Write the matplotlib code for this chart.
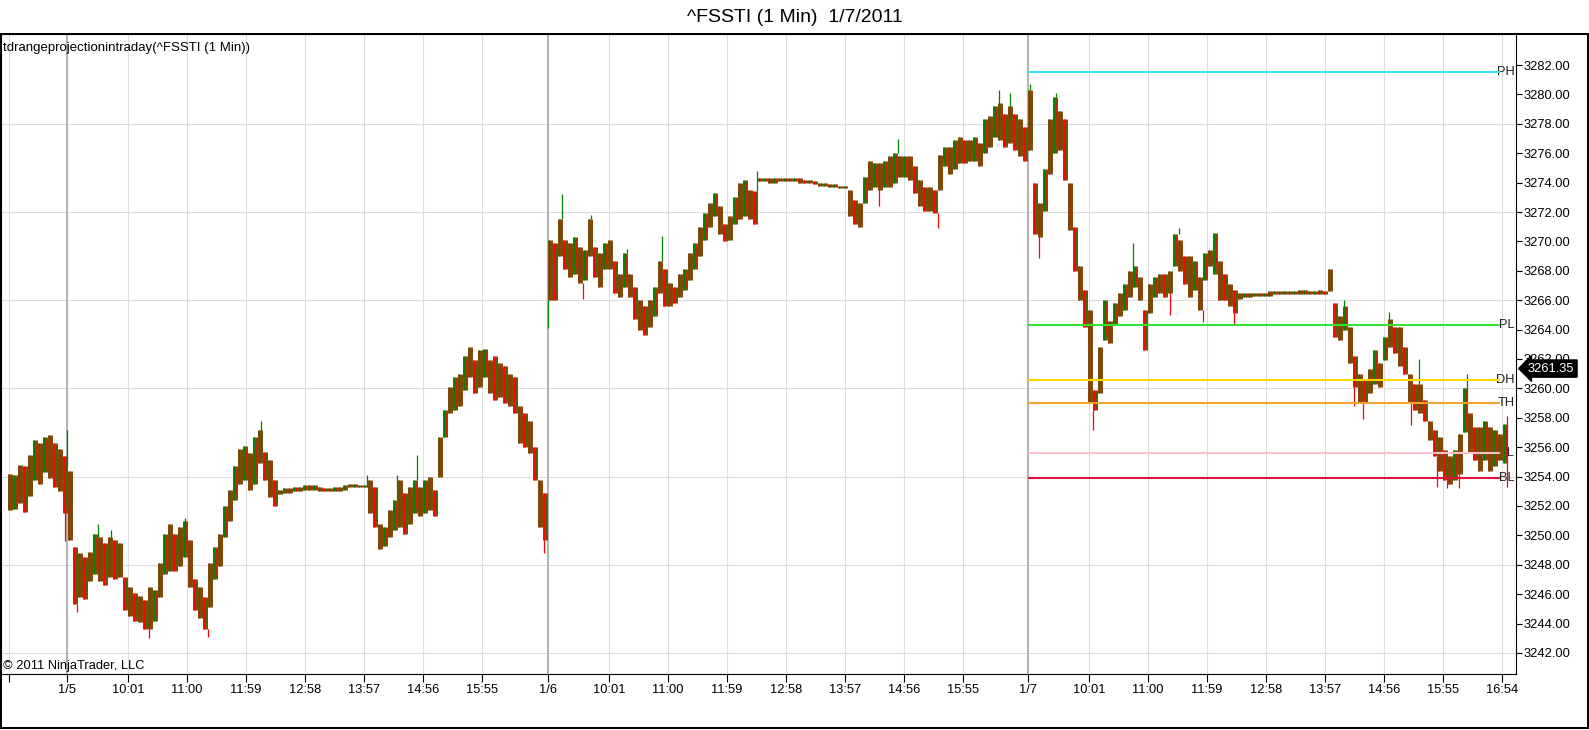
import matplotlib
matplotlib.use("Agg")
import matplotlib.pyplot as plt
import matplotlib.transforms as mtransforms
import numpy as np

# 5-minute columns, time in minutes from 1/5 09:00 (one minute = one bar slot)
bar_start = -57
bar_step = 5

highs = [
    3254.2, 3254.1, 3254.8, 3254.7, 3255.5, 3256.5, 3256.3, 3256.7, 3256.8, 3256.3,
    3255.9, 3255.4, 3254.4, 3249.2, 3248.8, 3248.5, 3248.9, 3250.1, 3249.9, 3249.5,
    3249.9, 3249.7, 3249.5, 3247.2, 3246.5, 3246.1, 3245.9, 3245.6, 3246.5, 3246.3,
    3248.1, 3250.1, 3250.8, 3250.1, 3250.6, 3251.0, 3249.7, 3247.0, 3246.5, 3245.8,
    3248.1, 3249.2, 3250.1, 3252.0, 3253.1, 3254.7, 3255.9, 3256.1, 3255.6, 3256.7,
    3257.2, 3255.7, 3255.1, 3253.8, 3253.1, 3253.2, 3253.2, 3253.3, 3253.3, 3253.4,
    3253.4, 3253.4, 3253.3, 3253.2, 3253.2, 3253.3, 3253.3, 3253.4, 3253.5, 3253.5,
    3253.4, 3253.4, 3253.8, 3253.3, 3250.8, 3250.6, 3251.7, 3252.4, 3253.8, 3252.9,
    3253.3, 3253.8, 3253.3, 3253.8, 3254.0, 3253.1, 3256.7, 3258.5, 3260.1, 3260.8,
    3261.0, 3262.2, 3262.8, 3261.9, 3262.6, 3262.7, 3261.9, 3262.2, 3261.7, 3261.5,
    3261.0, 3260.8, 3258.8, 3258.3, 3257.8, 3256.0, 3253.8, 3252.9, 3270.1, 3269.9,
    3271.5, 3270.1, 3269.9, 3270.3, 3269.6, 3269.4, 3271.5, 3269.6, 3269.2, 3269.9,
    3270.1, 3268.7, 3267.8, 3269.2, 3267.8, 3266.9, 3266.0, 3265.6, 3266.0, 3266.9,
    3268.7, 3268.1, 3267.2, 3266.9, 3267.8, 3268.1, 3269.2, 3269.9, 3271.0, 3271.9,
    3272.6, 3273.3, 3272.4, 3271.2, 3271.7, 3273.0, 3274.0, 3274.2, 3273.5, 3273.4,
    3274.3, 3274.3, 3274.3, 3274.3, 3274.3, 3274.3, 3274.3, 3274.3, 3274.3, 3274.2,
    3274.2, 3274.1, 3274.0, 3274.0, 3273.9, 3273.9, 3273.8, 3273.8, 3273.5, 3272.8,
    3272.6, 3274.4, 3275.5, 3275.3, 3275.3, 3275.5, 3275.8, 3276.0, 3275.8, 3275.8,
    3275.8, 3275.1, 3274.2, 3273.7, 3273.7, 3273.5, 3275.9, 3276.4, 3276.4, 3276.9,
    3277.1, 3276.9, 3276.9, 3277.1, 3276.7, 3278.3, 3278.5, 3279.2, 3279.4, 3278.7,
    3279.2, 3278.7, 3278.3, 3277.8, 3280.3, 3274.0, 3272.6, 3274.9, 3278.3, 3279.8,
    3278.9, 3278.3, 3274.0, 3271.0, 3268.3, 3266.7, 3265.3, 3259.9, 3262.8, 3266.0,
    3264.6, 3265.8, 3266.5, 3267.1, 3268.0, 3268.3, 3267.6, 3265.3, 3267.1, 3267.6,
    3267.8, 3267.8, 3268.0, 3270.5, 3270.1, 3269.0, 3269.0, 3268.7, 3267.6, 3269.2,
    3269.4, 3270.6, 3268.7, 3267.8, 3267.1, 3266.7, 3266.5, 3266.5, 3266.5, 3266.5,
    3266.5, 3266.5, 3266.6, 3266.6, 3266.6, 3266.6, 3266.6, 3266.6, 3266.7, 3266.7,
    3266.6, 3266.6, 3266.7, 3266.6, 3268.1, 3265.8, 3264.9, 3265.6, 3264.2, 3262.2,
    3261.0, 3260.6, 3261.3, 3262.6, 3261.7, 3263.5, 3264.7, 3264.2, 3264.2, 3262.8,
    3261.0, 3260.3, 3260.3, 3259.2, 3257.8, 3257.2, 3256.7, 3255.8, 3255.4, 3255.8,
    3256.9, 3260.0, 3258.3, 3257.4, 3257.4, 3257.8, 3257.4, 3257.2, 3256.9, 3257.6,
]

lows = [
    3251.7, 3251.8, 3252.2, 3251.6, 3252.7, 3253.8, 3253.5, 3254.3, 3253.9, 3253.3,
    3253.0, 3251.5, 3249.7, 3245.3, 3245.8, 3245.7, 3246.9, 3247.4, 3246.9, 3246.6,
    3247.2, 3247.0, 3247.2, 3244.9, 3244.5, 3244.2, 3244.1, 3243.6, 3243.6, 3244.2,
    3245.8, 3247.4, 3247.6, 3247.6, 3247.9, 3248.5, 3246.5, 3244.9, 3244.4, 3243.6,
    3245.1, 3247.0, 3247.9, 3249.9, 3251.0, 3252.4, 3253.5, 3253.8, 3253.1, 3253.5,
    3254.9, 3253.8, 3252.6, 3252.0, 3252.8, 3252.9, 3252.9, 3253.0, 3253.0, 3253.1,
    3253.1, 3253.1, 3253.0, 3253.0, 3253.0, 3253.0, 3253.0, 3253.1, 3253.3, 3253.3,
    3253.3, 3253.3, 3251.5, 3250.6, 3249.1, 3249.3, 3249.9, 3250.4, 3250.6, 3250.1,
    3250.8, 3251.5, 3251.3, 3251.5, 3251.7, 3251.3, 3254.0, 3256.7, 3258.3, 3258.5,
    3258.8, 3259.9, 3260.8, 3259.7, 3260.1, 3260.8, 3259.7, 3259.2, 3259.4, 3259.0,
    3258.8, 3258.3, 3256.3, 3256.0, 3255.6, 3253.8, 3250.6, 3249.7, 3266.0, 3266.0,
    3269.0, 3268.1, 3267.6, 3267.8, 3267.2, 3267.4, 3269.0, 3267.6, 3266.9, 3268.1,
    3268.1, 3266.5, 3266.2, 3266.9, 3266.2, 3264.7, 3264.0, 3263.6, 3264.2, 3264.9,
    3266.5, 3265.6, 3265.6, 3265.8, 3266.2, 3266.7, 3267.4, 3268.1, 3269.0, 3270.1,
    3271.0, 3271.7, 3270.5, 3270.0, 3270.1, 3271.2, 3271.5, 3271.7, 3271.5, 3271.2,
    3274.1, 3274.1, 3274.0, 3274.0, 3274.1, 3274.1, 3274.1, 3274.1, 3274.0, 3274.0,
    3274.0, 3273.9, 3273.8, 3273.8, 3273.7, 3273.7, 3273.6, 3273.6, 3271.7, 3271.2,
    3271.0, 3272.6, 3273.5, 3273.7, 3273.5, 3273.7, 3273.7, 3274.0, 3274.4, 3274.4,
    3274.2, 3273.3, 3272.4, 3272.1, 3272.1, 3271.9, 3273.5, 3275.1, 3274.6, 3274.9,
    3275.3, 3275.3, 3275.5, 3275.5, 3275.1, 3276.0, 3276.4, 3277.1, 3276.9, 3276.4,
    3276.7, 3276.2, 3275.8, 3275.5, 3276.2, 3270.5, 3270.3, 3272.1, 3274.6, 3276.0,
    3276.2, 3274.2, 3270.8, 3268.0, 3266.0, 3264.2, 3259.0, 3258.5, 3259.7, 3263.3,
    3263.1, 3264.4, 3264.9, 3265.3, 3266.2, 3266.9, 3266.0, 3262.6, 3265.1, 3266.2,
    3266.5, 3266.2, 3266.5, 3268.3, 3268.0, 3267.1, 3266.2, 3266.7, 3265.3, 3267.4,
    3268.3, 3267.8, 3266.0, 3266.0, 3265.6, 3265.1, 3266.1, 3266.2, 3266.2, 3266.3,
    3266.3, 3266.3, 3266.3, 3266.4, 3266.4, 3266.4, 3266.4, 3266.4, 3266.4, 3266.4,
    3266.4, 3266.4, 3266.4, 3266.4, 3266.6, 3263.5, 3263.3, 3264.0, 3261.7, 3260.1,
    3259.0, 3259.0, 3259.7, 3260.3, 3260.1, 3261.9, 3262.8, 3262.4, 3261.5, 3261.0,
    3259.0, 3258.5, 3258.3, 3257.8, 3256.5, 3255.4, 3254.4, 3253.8, 3253.5, 3253.8,
    3254.2, 3257.0, 3255.6, 3255.1, 3254.4, 3255.1, 3254.4, 3254.7, 3255.1, 3254.9,
]

# single-minute wicks sticking out of the band
spike_t = [-2, 0, 10, 31, 44, 82, 118, 141, 194, 300, 330, 350, 477, 481, 495,
           516, 524, 560, 595, 690, 812, 831, 871, 932, 943, 963, 972, 989, 1026,
           1066, 1103, 1112, 1136, 1167, 1277, 1287, 1296, 1322, 1344, 1352, 1370,
           1380, 1392, 1400, 1440]
spike_lo = [3249.6, 3254.7, 3244.8, 3249.9, 3249.7, 3243.0, 3250.5, 3243.1, 3255.8,
            3253.3, 3252.4, 3253.8, 3248.8, 3264.1, 3271.5, 3266.1, 3271.5, 3269.2,
            3268.7, 3273.4, 3272.4, 3276.0, 3270.9, 3279.2, 3279.2, 3280.3, 3268.9,
            3279.8, 3257.2, 3268.1, 3265.0, 3270.5, 3264.5, 3264.4, 3265.6, 3258.8,
            3257.9, 3264.7, 3257.5, 3260.3, 3253.3, 3253.2, 3253.2, 3259.2, 3253.3]
spike_hi = [3251.5, 3257.2, 3245.3, 3250.8, 3250.4, 3243.6, 3251.2, 3243.6, 3257.8,
            3254.1, 3254.1, 3255.5, 3249.7, 3266.0, 3273.2, 3267.2, 3271.8, 3269.5,
            3270.4, 3274.8, 3273.7, 3277.0, 3271.9, 3280.3, 3280.1, 3280.7, 3270.3,
            3280.1, 3258.5, 3269.9, 3266.5, 3270.9, 3265.3, 3265.1, 3266.0, 3260.1,
            3259.0, 3265.2, 3259.0, 3262.0, 3255.4, 3253.8, 3254.2, 3261.0, 3258.1]

level_names = ["PH", "PL", "DH", "TH", "TL", "BL"]
level_values = [3281.5, 3264.3, 3260.6, 3259.0, 3255.6, 3253.9]
level_colors = ["#3fe0ef", "#33e033", "#ffd700", "#f5a530", "#ffc0cb", "#dc143c"]
last_price = 3261.35

day_labels = ["1/5", "1/6", "1/7"]
day_starts = [0, 481, 961]
time_labels = ["10:01", "11:00", "11:59", "12:58", "13:57", "14:56", "15:55", "16:54"]
time_offsets = [61, 120, 179, 238, 297, 356, 415, 474]

plt.rcParams["font.family"] = ["Liberation Sans", "DejaVu Sans"]

W, H = 1589, 730
fig = plt.figure(figsize=(W / 100, H / 100), dpi=100)
ax = fig.add_axes([1 / W, 56 / H, 1515 / W, 640 / H])
ax.set_xlim(-66, 1449)
ax.set_ylim(3240.57, 3284.11)

# x ticks: date at session start, then hourly-ish times
xt, xl = [-58], [""]
for i, (d, s) in enumerate(zip(day_labels, day_starts)):
    end = day_starts[i + 1] if i + 1 < len(day_starts) else 1449
    xt.append(s)
    xl.append(d)
    for lab, off in zip(time_labels, time_offsets):
        if s + off < end - 10:
            xt.append(s + off)
            xl.append(lab)
ax.set_xticks(xt)
ax.set_xticklabels(xl, fontsize=9.3)
ax.tick_params(axis="x", length=5.8, width=0.8, pad=1.5, direction="out")

ax.yaxis.tick_right()
yt = np.arange(3242, 3283, 2)
ax.set_yticks(yt)
ax.set_yticklabels([f"{v:.2f}" for v in yt], fontsize=9.3)
ax.tick_params(axis="y", length=4.3, width=0.8, pad=1.2, direction="out")

for s in ax.spines.values():
    s.set_color("black")
    s.set_linewidth(0.8)

# grid
for y in np.arange(3242, 3283, 6):
    ax.axhline(y, color="#dcdcdc", lw=0.8, zorder=0)
for x in xt:
    if x in day_starts:
        ax.axvline(x, color="#b4b4b4", lw=1.5, zorder=0)
    else:
        ax.axvline(x, color="#dcdcdc", lw=0.8, zorder=0)

# price bars: brown band (red/green blend) with a coloured edge per column
t = bar_start + bar_step * np.arange(len(highs))
hi = np.array(highs)
lo = np.array(lows)
mid = (hi + lo) / 2
up = np.r_[True, np.diff(mid) >= 0]
ax.vlines(t, lo, hi, colors="#844a0c", lw=3.6, zorder=3)
ax.vlines(t - 1.5, lo, hi, colors=np.where(up, "#008000", "#ff0000"), lw=0.8, zorder=3)
ax.vlines(t + 1, lo + (hi - lo) * 0.15, hi - (hi - lo) * 0.1,
          colors=np.where(up, "#ff0000", "#008000"), lw=0.6, zorder=3, alpha=0.6)

sp_t = np.array(spike_t)
sp_lo = np.array(spike_lo)
sp_hi = np.array(spike_hi)
sp_mid = np.interp(sp_t, t, mid)
ax.vlines(sp_t, sp_lo, sp_hi,
          colors=np.where((sp_lo + sp_hi) / 2 > sp_mid, "#008000", "#ff0000"),
          lw=0.9, zorder=3)

# projection levels on the last day
ax.hlines(level_values, day_starts[-1], 1433, colors=level_colors, lw=1.5, zorder=4)
blend = mtransforms.blended_transform_factory(ax.transAxes, ax.transData)
for name, v in zip(level_names, level_values):
    ax.text(0.9993, v, name, transform=blend, ha="right", va="center",
            fontsize=9.3, color="#202020", zorder=2.5)

ax.text(1.0079, last_price, f"{last_price:.2f}", transform=blend, ha="left",
        va="center", fontsize=9.3, color="white", clip_on=False, zorder=10,
        bbox=dict(boxstyle="larrow,pad=0.2", fc="black", ec="black"))

fig.text(0.5, 1 - 17 / H, "^FSSTI (1 Min)  1/7/2011", ha="center", va="center",
         fontsize=14)
fig.text(3 / W, 1 - 47.5 / H, "tdrangeprojectionintraday(^FSSTI (1 Min))",
         ha="left", va="center", fontsize=9.5)
fig.text(3 / W, 1 - 666 / H, "\u00a9 2011 NinjaTrader, LLC", ha="left",
         va="center", fontsize=9.3)

fig.add_artist(plt.Rectangle((1 / W, 2 / H), 1586.5 / W, 694 / H,
                             transform=fig.transFigure, fill=False,
                             ec="black", lw=1.44))

fig.savefig("out.png", dpi=100)
